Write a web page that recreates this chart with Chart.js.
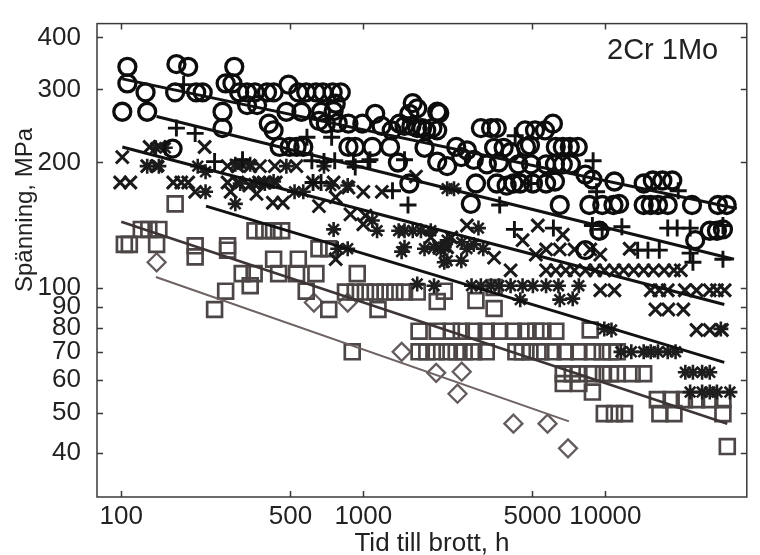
<!DOCTYPE html>
<html>
<head>
<meta charset="utf-8">
<script src="https://cdn.jsdelivr.net/npm/chart.js@4"></script>
<style>
  html, body { margin: 0; padding: 0; background: #fff; }
</style>
</head>
<body>
<canvas id="creepChart" width="760" height="555"></canvas>
<script>
// Creep rupture data, 2Cr 1Mo steel: [time to rupture (h), stress (MPa)]
const circlePts = [
  [106,340],[169,345],[189,340],[293,340],
  [106,310],[270,310],[288,310],[491,308],
  [126,295],[167,295],[204,295],[217,295],[307,295],[331,295],[357,295],[400,295],[426,295],[539,295],[581,295],[637,295],[681,295],[747,295],[807,295],
  [331,275],[364,275],[769,277],[1600,278],[1670,270],[2020,265],
  [101,265],[128,265],[262,265],[481,265],[555,265],[669,265],[754,266],[1120,262],[1550,262],[2060,263],
  [262,242],[407,248],[426,239],[656,252],[700,248],[784,249],[868,248],[991,248],[1190,245],[1310,239],[1410,248],[1480,245],[1580,245],[1670,242],[1750,242],[1820,239],[1930,242],[2020,239],[3060,242],[3370,242],[3560,242],[4660,239],[5120,239],[5630,239],[6070,248],
  [163,216],[451,218],[496,218],[530,218],[565,218],[868,218],[926,218],[1090,218],[1290,218],[1790,217],[2420,218],[2680,214],[3470,217],[3800,217],[4060,212],[4700,218],[4880,220],[6240,218],[6670,218],[7130,218],[7690,218],
  [1390,200],[2020,201],[2220,196],[2540,206],[2860,203],[3240,198],[3630,200],[4370,198],[4930,198],[5690,198],[6190,198],[6670,198],[7200,198],
  [1550,178],[2920,178],[3560,178],[3910,176],[4170,178],[4450,178],[5020,178],[5690,178],[6190,180],[8270,187],[8840,182],[10900,180],[14400,178],[15700,181],[17200,181],[18900,181],
  [2780,159],[6480,158],[8590,158],[9710,158],[10800,158],[11400,159],[14400,158],[15400,158],[16500,158],[18100,158],[22800,158],[29200,158],[31700,158],
  [9440,137],[27000,137],[28900,137],[30600,138],[23500,130],[8270,123]
];

const plusPts = [
  [181,308],[169,242],[202,235],[243,201],[317,203],[585,230],[740,230],[613,202],[688,201],[762,202],[910,201],[1046,201],[926,195],
  [620,179],[669,179],[1065,203],[1480,203],[1320,171],[1530,158],[3660,158],[4240,232],[4930,178],[8900,202],[9200,170],[20000,171],
  [4210,138],[6100,139],[8840,141],[9700,138],[11700,140],[18100,139],[19800,139],[22400,139],[30600,141],
  [13600,123],[15000,123],[16700,123],[22400,121],[23000,115],[30600,117]
];

const crossPts = [
  [101,206],[99,179],[109,179],[131,218],[144,218],[128,196],[140,196],[164,179],[177,179],[189,179],[202,170],[221,218],
  [275,196],[302,196],[275,179],[302,179],[283,170],[341,196],[374,196],[431,196],[338,176],[371,179],[388,179],[435,179],
  [362,168],[423,160],[465,160],[529,196],[620,179],[656,157],[754,179],[868,174],[769,165],[1000,170],[1193,170],
  [885,150],[1020,149],[1000,142],[769,117],[1650,185],[1900,132],[2060,125],[2310,132],[2220,125],[2680,141],[3470,118],
  [4060,110],[4550,130],[5160,120],[5260,141],[5690,123.5],[6480,123.5],[6670,134],[7460,123.5],[8660,123.5],[9530,120],[12600,124],
  [5690,110],[6240,110],[6860,110],[7460,110],[8270,110],[9070,110],[9910,110],[10900,110],[11900,110],[13100,110],[14400,110],[15800,110],[17500,110],[19200,110],[20500,110],
  [9530,98.5],[10900,98.5],[15400,98.5],[16700,98.5],[18100,98.5],[21300,98.5],[23800,98.5],[27000,98.5],[28900,98.5],[31100,98.5],
  [16100,88.5],[18200,88.5],[21000,88.5],
  [23800,79],[27000,79],[30300,79]
];

const starPts = [
  [139,217],[152,217],[128,196],[143,196],[207,196],[223,190],[223,170],[296,198],[316,198],[341,198],[310,178],[354,178],[392,178],[426,180],
  [296,159],[481,196],[520,170],[565,170],[688,196],[734,176],[862,176],[754,138],[784,124],[862,124],[1090,145],[1140,137],
  [1400,137],[1480,137],[1600,137],[1730,137],[1900,137],[1480,125],[1960,125],[2160,125],[2680,124],[3130,124],[2990,139],
  [2220,173],[2370,173],[1440,122],[2220,116],[2540,116],[1670,102],[1960,101],[3370,101],[2800,101],[3060,101],[3630,101],
  [4060,101],[4550,101],[5020,101],[5690,101],[6400,101],[7770,101],[4450,93.5],[6480,93.5],[7330,94],
  [2220,130],[2550,128.5],[2860,127],[1790,124],[2090,123],[2160,115],
  [9900,79.5],[10600,79],[30000,79.5],
  [11600,70],[12800,70],[14400,70],[15400,70],[16500,70],[18100,70],[19500,70],
  [21400,62.5],[23000,62.5],[25100,62.5],[27000,62.5],
  [22400,56],[25100,56],[27000,56],[28900,56],[32700,56]
];

const squarePts = [
  [167,159],[103,127],[108,127],[121,138],[130,138],[143,138],[140,127],[202,126],[275,126],[202,118.5],[275,123],
  [357,137],[388,137],[426,137],[460,137],[426,117],[539,117],[316,108],[354,108],[447,108],[530,108],[637,108],
  [270,98],[341,101],[243,88.5],[581,98],[720,88.5],[900,70],[944,108],[1150,88.5],[656,124],[720,124],
  [844,97.5],[926,97.5],[1020,97.5],[1120,97.5],[1230,97.5],[1350,97.5],[1480,97.5],[1670,97.5],
  [2160,98],[2020,92.5],[2920,93],[3470,89],[3470,100],
  [1700,78.5],[2020,78.5],[2310,78.5],[2540,78.5],[2860,78.5],[3220,78.5],[3660,78.5],[4170,78.5],[4700,78.5],[5160,78.5],[5520,78.5],[6240,78.5],[8660,79],
  [1700,70],[1830,70],[2000,70],[2220,70],[2420,70],[2610,70],[2860,70],[3220,70],[4270,70],[4540,70],[4880,70],[5410,70],[6070,70],[6830,70],[7770,70],[8840,70],[9710,70],[10500,70],[11200,70],
  [6700,62],[7300,62],[7770,62],[8840,62],[9820,62],[10500,62],[11200,62],[12900,62],[14400,62],
  [6700,58.7],[7770,58.7],[8840,56],
  [16400,53.7],[18700,53.7],[21200,53.7],[23800,53.7],[27000,53.7],[30600,53.7],
  [9900,49.7],[10900,49.7],[12000,49.7],[16800,49.7],[19200,49.7],[30600,49.7],
  [31900,41.4]
];

const diamondPts = [
  [140,115],[625,92],[862,92],[1440,70],[2000,62.3],[2550,62.7],[2450,55.5],[4170,47],[5770,47],[7010,41]
];

// fitted trend lines, one per series: [start, end]
const fitCircle = [[101,318],[34900,155]];
const fitPlus = [[140,258],[34000,117]];
const fitCross = [[101,218],[31000,91]];
const fitStar = [[224,157],[31000,66]];
const fitSquare = [[100,144],[31900,47]];
const fitDiamond = [[139,106],[7070,47.6]];

const xTicks = [100, 500, 1000, 5000, 10000];
const yTicks = [40, 50, 60, 70, 80, 90, 100, 200, 300, 400];

const FONT = '"Liberation Sans", Arial, sans-serif';
const INK = '#222';

const pts = arr => arr.map(([x, y]) => ({ x, y }));

function markers(arr, style, radius, width, color) {
  return {
    data: pts(arr),
    pointStyle: style,
    pointRadius: radius,
    pointBorderWidth: width,
    pointBorderColor: color,
    pointBackgroundColor: 'rgba(0,0,0,0)',
    showLine: false
  };
}

function fitLine(arr, color, width) {
  return {
    data: pts(arr),
    showLine: true,
    borderColor: color,
    borderWidth: width,
    pointRadius: 0
  };
}

// frame with inward ticks, axis titles and the steel grade label
const framePlugin = {
  id: 'framePlugin',
  afterDraw(chart) {
    const { ctx, chartArea: a, scales: { x, y } } = chart;
    ctx.save();
    ctx.strokeStyle = '#3a3a3a';
    ctx.lineWidth = 1.5;
    ctx.strokeRect(a.left, a.top, a.right - a.left, a.bottom - a.top);
    ctx.beginPath();
    x.ticks.forEach(t => {
      const px = Math.round(x.getPixelForValue(t.value)) + 0.5;
      ctx.moveTo(px, a.bottom); ctx.lineTo(px, a.bottom - 6);
      ctx.moveTo(px, a.top); ctx.lineTo(px, a.top + 6);
    });
    y.ticks.forEach(t => {
      const py = Math.round(y.getPixelForValue(t.value)) + 0.5;
      ctx.moveTo(a.left, py); ctx.lineTo(a.left + 6, py);
      ctx.moveTo(a.right, py); ctx.lineTo(a.right - 6, py);
    });
    ctx.stroke();

    ctx.fillStyle = INK;
    ctx.textBaseline = 'alphabetic';
    ctx.font = '26px ' + FONT;
    ctx.textAlign = 'center';
    ctx.fillText('Tid till brott, h', 432, 551);

    ctx.save();
    ctx.translate(32, 210);
    ctx.rotate(-Math.PI / 2);
    ctx.font = '24px ' + FONT;
    ctx.fillText('Spänning, MPa', 0, 0);
    ctx.restore();

    ctx.textAlign = 'left';
    ctx.font = '29px ' + FONT;
    ctx.fillText('2Cr 1Mo', 607, 59);
    ctx.restore();
  }
};

new Chart(document.getElementById('creepChart'), {
  type: 'scatter',
  data: {
    datasets: [
      fitLine(fitCircle, '#111', 3),
      fitLine(fitPlus, '#111', 3),
      fitLine(fitCross, '#111', 3),
      fitLine(fitStar, '#111', 2.8),
      fitLine(fitSquare, '#3d3535', 2.6),
      fitLine(fitDiamond, '#6e6262', 2),
      markers(circlePts, 'circle', 8.5, 3.3, '#0d0d0d'),
      markers(plusPts, 'cross', 8.5, 2.9, '#111'),
      markers(crossPts, 'crossRot', 9, 3, '#1a1a1a'),
      markers(starPts, 'star', 7.5, 2.6, '#1e1e1e'),
      markers(squarePts, 'rect', 10.5, 2.7, '#4d4646'),
      markers(diamondPts, 'rectRot', 9, 2.3, '#645c5c')
    ]
  },
  options: {
    responsive: false,
    devicePixelRatio: 1,
    animation: false,
    layout: { padding: { top: 9, right: 2, left: 0, bottom: 0 } },
    plugins: { legend: { display: false }, tooltip: { enabled: false } },
    scales: {
      x: {
        type: 'logarithmic',
        min: 79.4,
        max: 38400,
        afterBuildTicks: s => { s.ticks = xTicks.map(v => ({ value: v })); },
        afterFit: s => { s.height = 58; },
        grid: { display: false },
        border: { display: false },
        ticks: {
          autoSkip: false,
          maxRotation: 0,
          padding: -4,
          color: INK,
          font: { family: FONT, size: 26 },
          callback: v => String(v)
        }
      },
      y: {
        type: 'logarithmic',
        min: 31.3,
        max: 432,
        afterBuildTicks: s => { s.ticks = yTicks.map(v => ({ value: v })); },
        afterFit: s => { s.width = 97; },
        grid: { display: false },
        border: { display: false },
        ticks: {
          autoSkip: false,
          padding: 8,
          color: INK,
          font: { family: FONT, size: 26 },
          callback: v => String(v)
        }
      }
    }
  },
  plugins: [framePlugin]
});
</script>
</body>
</html>
